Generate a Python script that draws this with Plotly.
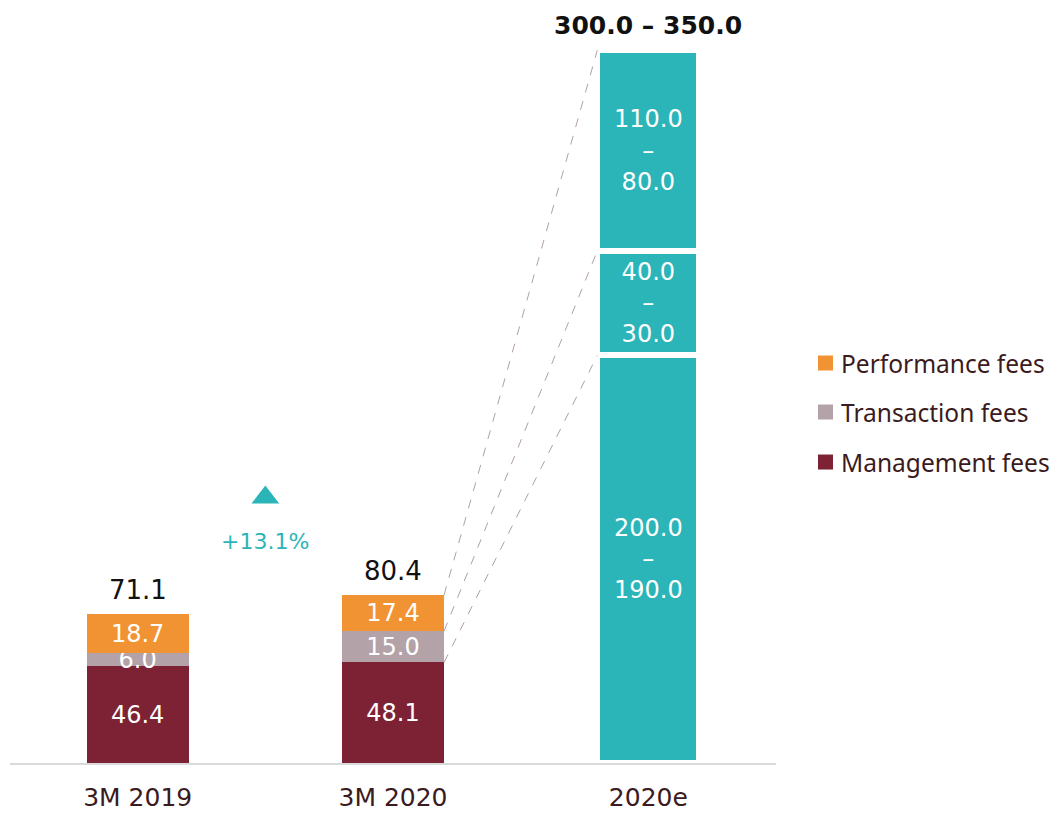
import plotly.graph_objects as go

categories = ["3M 2019", "3M 2020", "2020e"]
hist_cats = ["3M 2019", "3M 2020"]
series_names = ["Management fees", "Transaction fees", "Performance fees"]
management = [46.4, 48.1]
transaction = [6.0, 15.0]
performance = [18.7, 17.4]
totals = [71.1, 80.4]

# 2020e estimate ranges (labels) and drawn segment heights
est_high = [200.0, 40.0, 110.0]
est_low = [190.0, 30.0, 80.0]
est_drawn = [195.0, 50.0, 96.0]
est_total_label = "300.0 – 350.0"
growth_label = "+13.1%"
growth_y = 127
growth_text_y = 106

C_MGMT = "#7C2234"
C_TRANS = "#B3A2A7"
C_PERF = "#F29333"
C_TEAL = "#2BB5B8"
NUM_FONT = "DejaVu Sans"
TXT_FONT = "Noto Sans"
DARK = "#3B1A20"
colors = [C_MGMT, C_TRANS, C_PERF]

fig = go.Figure()
for name, vals, col in zip(series_names, [management, transaction, performance], colors):
    fig.add_trace(go.Bar(
        x=hist_cats, y=vals, name=name, marker=dict(color=col, line=dict(width=0)),
        text=[f"{v:.1f}" for v in vals], textposition="inside", insidetextanchor="middle",
        textfont=dict(color="white", size=24, family=NUM_FONT), showlegend=False,
        cliponaxis=False,
    ))

for hi, lo, h in zip(est_high, est_low, est_drawn):
    fig.add_trace(go.Bar(
        x=["2020e"], y=[h], showlegend=False,
        marker=dict(color=C_TEAL, line=dict(width=6, color="white")),
        text=[f"{hi:.1f}<br>–<br>{lo:.1f}"], textposition="inside", insidetextanchor="middle",
        textfont=dict(color="white", size=24, family=NUM_FONT),
    ))

# growth triangle on an overlaid numeric axis
fig.add_trace(go.Scatter(
    x=[0.5], y=[growth_y], xaxis="x2", mode="markers", showlegend=False,
    marker=dict(symbol="triangle-up", size=24, color=C_TEAL), hoverinfo="skip",
))

# totals
for i, t in enumerate(totals):
    fig.add_annotation(x=i, y=t, text=f"{t:.1f}", showarrow=False, yanchor="bottom", yshift=7,
                       font=dict(size=26, color="#111111", family=NUM_FONT))
fig.add_annotation(x=2, y=sum(est_drawn), text=f"<b>{est_total_label}</b>", showarrow=False,
                   yanchor="bottom", yshift=8, font=dict(size=25, color="#111111", family=NUM_FONT))
fig.add_annotation(x=0.5, y=growth_text_y, text=growth_label, showarrow=False,
                   font=dict(size=22, color=C_TEAL, family=NUM_FONT))

# dashed connectors
left_tops = [management[1], management[1] + transaction[1], totals[1]]
right_tops = [est_drawn[0], est_drawn[0] + est_drawn[1], sum(est_drawn)]
for ly, ry in zip(left_tops, right_tops):
    fig.add_shape(type="line", xref="x", yref="y", x0=1.2, y0=ly, x1=1.8, y1=ry,
                  line=dict(color="#B0A0A5", width=1, dash="dash"))

# legend (drawn manually so it never pushes the plot margins)
leg_y = [0.3997, 0.4661, 0.5312]  # paper y centres: Management, Transaction, Performance
half = 0.00996
for name, col, yc in zip(series_names, colors, leg_y):
    fig.add_shape(type="rect", xref="paper", yref="paper", x0=1.0548, x1=1.0744,
                  y0=yc - half, y1=yc + half, fillcolor=col, line=dict(width=0))
    fig.add_annotation(xref="paper", yref="paper", x=1.0823, y=yc, text=name,
                       showarrow=False, xanchor="left", yanchor="middle",
                       font=dict(size=24.5, color=DARK, family=TXT_FONT))

fig.update_layout(
    width=1049, height=806, barmode="stack", bargap=0.6,
    plot_bgcolor="white", paper_bgcolor="white",
    margin=dict(l=2, r=281, t=2, b=51),
    font=dict(family=NUM_FONT, size=24, color=DARK),
    uniformtext=dict(minsize=24, mode="show"),
    xaxis=dict(type="category", categoryorder="array", categoryarray=categories,
               range=[-0.5, 2.5], showline=True, linecolor="#D9D9D9", linewidth=2,
               ticks="", showgrid=False, automargin=False, ticklabelstandoff=11,
               tickfont=dict(size=25, color=DARK, family=NUM_FONT)),
    xaxis2=dict(overlaying="x", range=[-0.5, 2.5], visible=False),
    yaxis=dict(range=[0, 360.3], visible=False, showgrid=False, automargin=False),
    showlegend=False,
)

fig.write_html("out.html")
